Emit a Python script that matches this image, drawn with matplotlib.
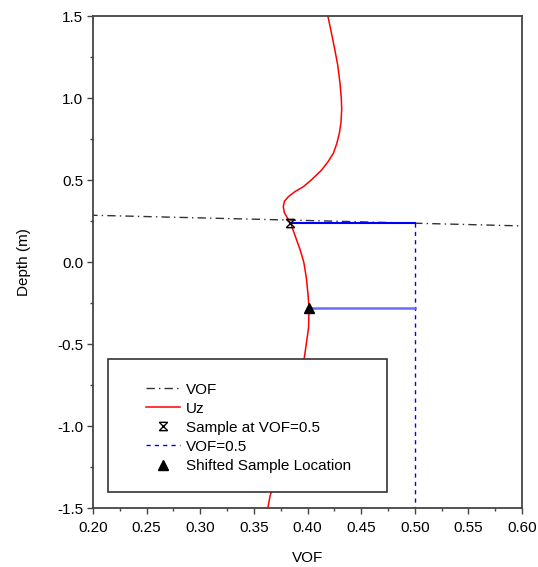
import matplotlib
matplotlib.use("Agg")
import matplotlib.pyplot as plt
from matplotlib.patches import Rectangle
from matplotlib.path import Path
from matplotlib.ticker import MultipleLocator, FormatStrFormatter

plt.rcParams['font.family'] = ['Liberation Sans', 'DejaVu Sans']
plt.rcParams['font.size'] = 11
plt.rcParams['axes.unicode_minus'] = False

# VOF profile across the interface
vof_x = [0.0, 0.2, 0.4, 0.6, 0.8, 1.0]
vof_depth = [0.318, 0.285, 0.253, 0.220, 0.188, 0.155]

# Uz profile
uz_x = [0.419, 0.4222, 0.4256, 0.4282, 0.4303, 0.4315, 0.4319, 0.4312, 0.4297,
        0.4272, 0.4241, 0.419, 0.4132, 0.4035, 0.3961, 0.3885, 0.3821, 0.3785,
        0.3774, 0.3785, 0.3806, 0.3843, 0.389, 0.393, 0.3965, 0.399, 0.4005,
        0.4014, 0.401, 0.398, 0.392, 0.384, 0.375, 0.365, 0.363]
uz_depth = [1.5, 1.4, 1.29, 1.2, 1.09, 1.0, 0.93, 0.85, 0.785, 0.72, 0.663,
            0.61, 0.561, 0.50, 0.459, 0.43, 0.398, 0.37, 0.337, 0.30, 0.276,
            0.236, 0.15, 0.077, 0.0, -0.10, -0.2, -0.28, -0.40, -0.54, -0.80,
            -1.00, -1.20, -1.43, -1.50]

vof_target = 0.5
sample_x, sample_depth = 0.384, 0.236
shifted_x, shifted_depth = 0.401, -0.28

# X with bars top and bottom
hourglass = Path([(-1, -1), (1, 1), (-1, 1), (1, -1), (-1, 1), (1, 1), (-1, -1), (1, -1)],
                 [Path.MOVETO, Path.LINETO, Path.MOVETO, Path.LINETO,
                  Path.MOVETO, Path.LINETO, Path.MOVETO, Path.LINETO])

fig = plt.figure(figsize=(5.38, 5.67), dpi=100)
ax = fig.add_axes([93 / 538, 1 - 508 / 567, 429 / 538, 492 / 567])

ax.plot(vof_x, vof_depth, color='#333333', lw=1.0, ls=(0, (6, 3, 1, 3)), label='VOF')
ax.plot(uz_x, uz_depth, color='red', lw=1.1, label='Uz')
ax.plot([sample_x], [sample_depth], ls='none', marker=hourglass, ms=6, mew=1.0,
        mec='black', color='black', label='Sample at VOF=0.5', zorder=5)
ax.plot([vof_target, vof_target], [sample_depth, -1.5], color='blue', lw=1.0,
        ls=(0, (3, 3)), label='VOF=0.5')
ax.plot([sample_x, vof_target], [sample_depth, sample_depth], color='blue', lw=1.5)
ax.plot([shifted_x, vof_target], [shifted_depth, shifted_depth], color='#6b6bff', lw=1.8)
ax.plot([shifted_x], [shifted_depth], ls='none', marker='^', ms=7, color='black',
        label='Shifted Sample Location', zorder=5)

ax.set_xlim(0.2, 0.6)
ax.set_ylim(-1.5, 1.5)
ax.xaxis.set_major_locator(MultipleLocator(0.05))
ax.xaxis.set_minor_locator(MultipleLocator(0.025))
ax.yaxis.set_major_locator(MultipleLocator(0.5))
ax.yaxis.set_minor_locator(MultipleLocator(0.25))
ax.xaxis.set_major_formatter(FormatStrFormatter('%.2f'))
ax.yaxis.set_major_formatter(FormatStrFormatter('%.1f'))
ax.tick_params(which='major', direction='out', length=4, width=1.0, color='#444444', pad=3)
ax.tick_params(which='minor', direction='out', length=2.5, width=1.0, color='#444444')
ax.tick_params(axis='x', which='major', pad=5)

for s in ax.spines.values():
    s.set_color('#444444')
    s.set_linewidth(1.3)

ax.set_xlabel('VOF', labelpad=12)
ax.set_ylabel('Depth (m)', labelpad=19)

# legend box drawn over the curves, entries placed inside it
box = Rectangle((108.3 / 538, 1 - 491.7 / 567), 278.4 / 538, 132.4 / 567,
                transform=fig.transFigure, facecolor='white', edgecolor='#333333',
                lw=1.2, zorder=10, clip_on=False)
ax.add_patch(box)
handles, labels = ax.get_legend_handles_labels()
leg = ax.legend(handles, labels, loc='center left',
                bbox_to_anchor=(145.7 / 538, 1 - 427.8 / 567),
                bbox_transform=fig.transFigure, frameon=False, borderpad=0,
                borderaxespad=0, handlelength=2.27, handletextpad=0.35,
                labelspacing=0.33, fontsize=11)
leg.set_zorder(11)

fig.savefig('out.png', dpi=100)
